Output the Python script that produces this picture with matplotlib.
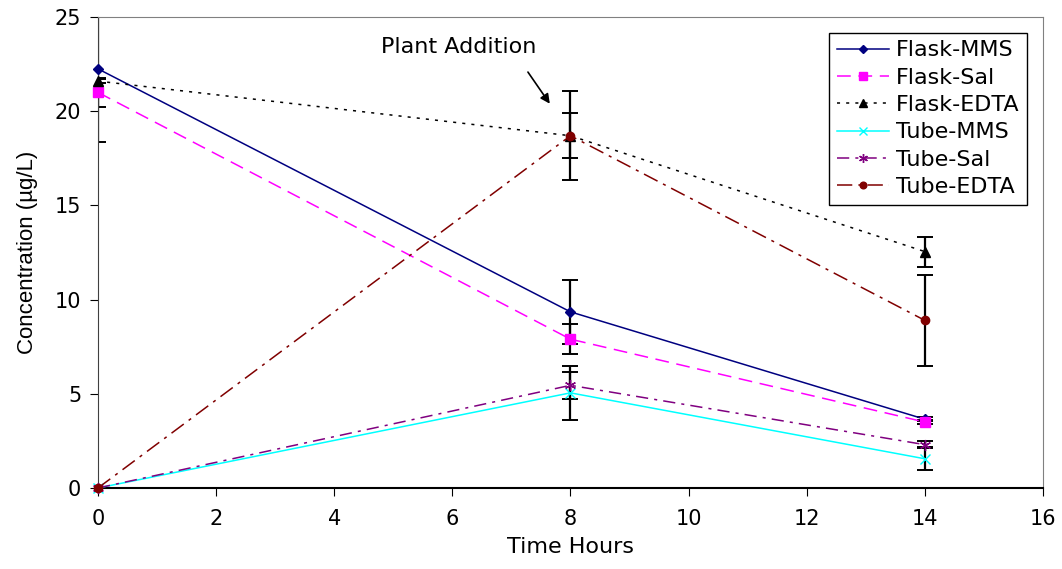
import matplotlib
matplotlib.use("Agg")
import matplotlib.pyplot as plt
import numpy as np

plt.rcParams['font.family'] = ['DejaVu Sans']

# time points (hours)
hours = [0, 8, 14]

# mean concentrations (ug/L)
flask_mms = [22.25, 9.35, 3.65]
flask_sal = [21.0, 7.9, 3.5]
flask_edta = [21.6, 18.7, 12.55]
tube_mms = [0.0, 5.05, 1.55]
tube_sal = [0.0, 5.45, 2.3]
tube_edta = [0.0, 18.7, 8.9]

# error bar half widths
flask_mms_err = [3.9, 1.7, 0.1]
flask_sal_err = [0.75, 0.8, 0.1]
flask_edta_err = [0.1, 1.2, 0.8]
tube_mms_err = [0.0, 1.45, 0.6]
tube_sal_err = [0.0, 0.7, 0.2]
tube_edta_err = [0.0, 2.35, 2.4]

labels = ['Flask-MMS', 'Flask-Sal', 'Flask-EDTA', 'Tube-MMS', 'Tube-Sal', 'Tube-EDTA']

fig = plt.figure(figsize=(10.62, 5.69), dpi=100)
ax = fig.add_axes([0.0923, 0.1424, 0.8897, 0.8276])

series = [
    (flask_mms, flask_mms_err, '#000080', '-', 'D', 5, labels[0]),
    (flask_sal, flask_sal_err, '#FF00FF', (0, (9, 5)), 's', 7, labels[1]),
    (flask_edta, flask_edta_err, 'black', (0, (2, 4)), '^', 7, labels[2]),
    (tube_mms, tube_mms_err, '#00FFFF', '-', 'x', 7, labels[3]),
    (tube_sal, tube_sal_err, '#800080', (0, (8, 4, 2, 4)), (6, 2, 0), 8, labels[4]),
    (tube_edta, tube_edta_err, '#800000', (0, (10, 4, 2, 4)), 'o', 6, labels[5]),
]

for vals, err, col, ls, mk, ms, lab in series:
    ax.errorbar(hours, vals, yerr=err, fmt='none', ecolor='black',
                elinewidth=1.6, capsize=6, capthick=1.4, zorder=2)
    ax.plot(hours, vals, color=col, linestyle=ls, linewidth=1.1,
            marker=mk, markersize=ms, markeredgecolor=col,
            markerfacecolor=col, label=lab, zorder=3, clip_on=False)

ax.set_xlim(0, 16)
ax.set_ylim(0, 25)
ax.set_xticks(np.arange(0, 17, 2))
ax.set_yticks(np.arange(0, 26, 5))
ax.tick_params(direction='out', length=6, labelsize=15, colors='black')
ax.tick_params(axis='x', pad=9)
ax.tick_params(axis='y', pad=6)
ax.set_xlabel('Time Hours', fontsize=16, labelpad=6)
ax.set_ylabel('Concentration (µg/L)', fontsize=16, labelpad=12,
              family='Liberation Sans')

for s in ['top', 'right']:
    ax.spines[s].set_color('#808080')
ax.spines['left'].set_color('#404040')
ax.spines['bottom'].set_color('black')
ax.spines['bottom'].set_linewidth(1.5)

ax.text(6.1, 23.4, 'Plant Addition', fontsize=16, ha='center', va='center')
ax.annotate('', xy=(7.65, 20.4), xytext=(7.28, 22.08),
            arrowprops=dict(arrowstyle='-|>', color='black', lw=1.2,
                            shrinkA=0, shrinkB=0, mutation_scale=14))

leg = ax.legend(loc='upper right', fontsize=16, frameon=True, fancybox=False,
                edgecolor='black', framealpha=1, handlelength=2.35,
                handletextpad=0.3, borderaxespad=0.7, labelspacing=0.33,
                borderpad=0.35, markerscale=0.8)
leg.get_frame().set_linewidth(1.0)

fig.savefig('out.png', dpi=100)
